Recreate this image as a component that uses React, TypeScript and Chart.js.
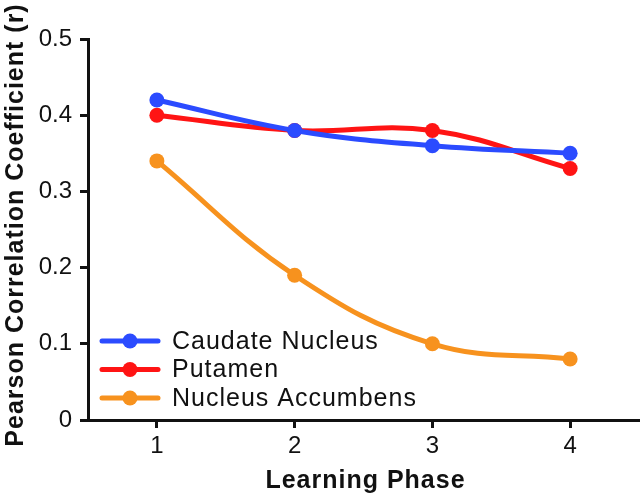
import React, { useEffect, useRef } from "react";
import { Chart, registerables } from "chart.js";

Chart.register(...registerables);

const phases = ["1", "2", "3", "4"];
const caudate = [0.42, 0.38, 0.36, 0.35];
const putamen = [0.40, 0.38, 0.38, 0.33];
const accumbens = [0.34, 0.19, 0.10, 0.08];
const seriesNames = ["Caudate Nucleus", "Putamen", "Nucleus Accumbens"];
const seriesColors = ["#2b4bff", "#ff1414", "#f7921e"];
const yTicks = [0, 0.1, 0.2, 0.3, 0.4, 0.5];
const xTitle = "Learning Phase";
const yTitle = "Pearson Correlation Coefficient (r)";

const FONT = "'Liberation Sans', Arial, Helvetica, sans-serif";

const overlayPlugin = {
  id: "overlay",
  afterDraw(chart: any) {
    const { ctx, chartArea } = chart;
    ctx.save();
    (ctx as any).letterSpacing = "1px";
    // legend
    ctx.font = `25px ${FONT}`;
    ctx.textBaseline = "middle";
    ctx.textAlign = "left";
    chart.data.datasets.forEach((ds: any, i: number) => {
      const y = chartArea.bottom - 79 + i * 28.5;
      const x0 = chartArea.left + 14;
      ctx.strokeStyle = ds.borderColor;
      ctx.lineWidth = 5;
      ctx.lineCap = "round";
      ctx.beginPath();
      ctx.moveTo(x0, y);
      ctx.lineTo(x0 + 56, y);
      ctx.stroke();
      ctx.fillStyle = ds.borderColor;
      ctx.beginPath();
      ctx.arc(x0 + 28, y, 7.5, 0, Math.PI * 2);
      ctx.fill();
      ctx.fillStyle = "#111";
      ctx.fillText(ds.label, x0 + 70, y + 1);
    });
    // axis titles
    ctx.fillStyle = "#111";
    ctx.font = `bold 25px ${FONT}`;
    ctx.textAlign = "center";
    ctx.textBaseline = "alphabetic";
    ctx.fillText(xTitle, (chartArea.left + chartArea.right) / 2 + 2, 488);
    ctx.translate(23, 225);
    ctx.rotate(-Math.PI / 2);
    ctx.fillText(yTitle, 0, 0);
    ctx.restore();
  },
};

export default function App() {
  const ref = useRef<HTMLCanvasElement>(null);
  useEffect(() => {
    const values = [caudate, putamen, accumbens];
    const chart = new Chart(ref.current!, {
      type: "line",
      data: {
        labels: phases,
        datasets: values.map((v, i) => ({
          label: seriesNames[i],
          data: v,
          borderColor: seriesColors[i],
          backgroundColor: seriesColors[i],
          borderWidth: 5,
          pointRadius: 7.5,
          pointBorderWidth: 0,
          tension: 0.4,
          fill: false,
          clip: false,
        })),
      },
      options: {
        animation: false,
        responsive: false,
        maintainAspectRatio: false,
        layout: { autoPadding: false, padding: { top: 39, right: 1, left: 0, bottom: 0 } },
        plugins: { legend: { display: false }, tooltip: { enabled: false } },
        scales: {
          x: {
            type: "category",
            offset: true,
            grid: {
              display: true,
              drawOnChartArea: false,
              offset: false,
              tickLength: 8,
              tickWidth: 3,
              tickColor: "#111",
            },
            border: { display: true, width: 3, color: "#111" },
            ticks: { color: "#111", font: { family: FONT, size: 24 }, padding: 4 },
            title: { display: false },
            afterFit: (s: any) => {
              s.height = 73;
              s.paddingLeft = 0;
              s.paddingRight = 0;
            },
          },
          y: {
            min: 0,
            max: 0.5,
            afterBuildTicks: (s: any) => { s.ticks = yTicks.map((v) => ({ value: v })); },
            grid: {
              display: true,
              drawOnChartArea: false,
              tickLength: 8,
              tickWidth: 3,
              tickColor: "#111",
            },
            border: { display: true, width: 3, color: "#111" },
            ticks: {
              color: "#111",
              font: { family: FONT, size: 24 },
              padding: 8,
              callback: (v: any) => (v === 0 ? "0" : Number(v).toFixed(1)),
            },
            title: { display: false },
            afterFit: (s: any) => {
              s.width = 88;
              s.paddingTop = 0;
              s.paddingBottom = 0;
            },
          },
        },
      },
      plugins: [overlayPlugin],
    });
    return () => chart.destroy();
  }, []);
  return (
    <div style={{ position: "absolute", left: 0, top: 0, width: 640, height: 493, background: "#fff" }}>
      <canvas ref={ref} width={640} height={493} style={{ width: 640, height: 493 }} />
    </div>
  );
}
